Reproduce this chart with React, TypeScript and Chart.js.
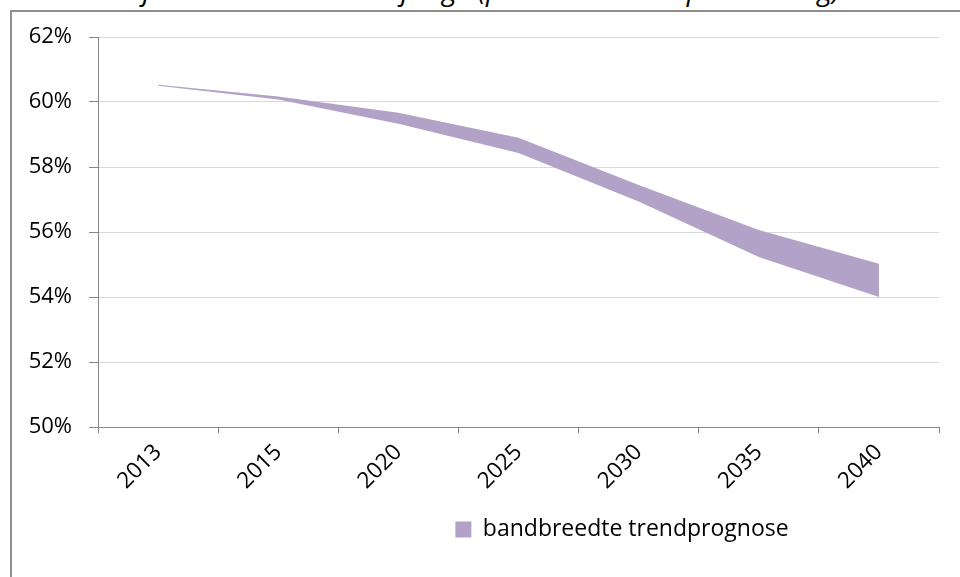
import React, { useEffect, useRef } from 'react';
import { Chart, registerables } from 'chart.js';

Chart.register(...registerables);

// ---- data ----
const years = ['2013', '2015', '2020', '2025', '2030', '2035', '2040'];
const lowerBound = [60.5, 60.08, 59.33, 58.43, 56.94, 55.23, 54.0];
const upperBound = [60.53, 60.17, 59.67, 58.9, 57.45, 56.06, 55.02];
const yTickValues = [50, 52, 54, 56, 58, 60, 62];
const legendLabel = 'bandbreedte trendprognose';
const titleStart = 'Grafiek 2 Aandeel 20-64-jarige ';
const titleEnd = '(potentiële beroepsbevolking) in de totale bevolking';

const W = 1220;
const H = 539;
const FONT = "'Open Sans', sans-serif";
const AXIS = '#868686';
const GRID = '#D9D9D9';
const BAND = '#B2A2C7';

export default function App() {
  const ref = useRef<HTMLCanvasElement | null>(null);

  useEffect(() => {
    if (!ref.current) return;
    const chart = new Chart(ref.current, {
      type: 'line',
      data: {
        labels: years,
        datasets: [
          {
            label: 'ondergrens',
            data: lowerBound,
            borderColor: 'transparent',
            backgroundColor: 'transparent',
            borderWidth: 0,
            pointRadius: 0,
            fill: false,
            tension: 0,
          },
          {
            label: legendLabel,
            data: upperBound,
            borderColor: 'transparent',
            backgroundColor: BAND,
            borderWidth: 0,
            pointRadius: 0,
            fill: '-1',
            tension: 0,
          },
        ],
      },
      options: {
        responsive: false,
        animation: false,
        layout: { padding: { top: 25, left: 0, right: 0, bottom: 0 } },
        plugins: {
          title: { display: false },
          tooltip: { enabled: false },
          legend: {
            display: true,
            position: 'bottom',
            align: 'center',
            labels: {
              filter: (item: any) => item.datasetIndex === 1,
              boxWidth: 16,
              boxHeight: 16,
              padding: 10,
              color: '#000',
              font: { family: FONT, size: 23 },
            },
          },
        },
        scales: {
          x: {
            type: 'category',
            offset: true,
            grid: {
              offset: true,
              drawOnChartArea: false,
              color: AXIS,
              tickLength: 6,
            },
            border: { color: AXIS, width: 1 },
            ticks: {
              minRotation: 45,
              maxRotation: 45,
              padding: 6,
              color: '#000',
              font: { family: FONT, size: 22.5 },
            },
            afterFit: (s: any) => {
              s.height = 81;
              s.paddingLeft = 0;
              s.paddingRight = 0;
            },
          },
          y: {
            type: 'linear',
            position: 'left',
            min: 50,
            max: 62,
            afterBuildTicks: (s: any) => {
              s.ticks = yTickValues.map((v) => ({ value: v }));
            },
            grid: {
              color: GRID,
              tickColor: AXIS,
              tickLength: 9,
            },
            border: { color: AXIS, width: 1 },
            ticks: {
              padding: 17,
              color: '#000',
              font: { family: FONT, size: 22 },
              callback: (v: any) => v + '%',
            },
            afterFit: (s: any) => {
              s.width = 86;
              s.paddingTop = 0;
              s.paddingBottom = 0;
            },
          },
          yR: {
            type: 'linear',
            position: 'right',
            display: true,
            grid: { display: false, drawTicks: false },
            border: { display: false },
            ticks: { display: false },
            afterFit: (s: any) => {
              s.width = W - 927;
              s.paddingTop = 0;
              s.paddingBottom = 0;
            },
          },
        },
      },
    });
    return () => chart.destroy();
  }, []);

  const titleFont: React.CSSProperties = {
    position: 'absolute',
    top: -30,
    fontFamily: FONT,
    fontStyle: 'italic',
    fontSize: 28,
    lineHeight: '38px',
    color: '#000',
  };

  return (
    <div
      style={{
        position: 'fixed',
        left: 0,
        top: 0,
        width: 960,
        height: 577,
        overflow: 'hidden',
        background: '#fff',
      }}
    >
      <div style={{ ...titleFont, right: 960 - 478, whiteSpace: 'pre' }}>{titleStart}</div>
      <div style={{ ...titleFont, left: 478, whiteSpace: 'pre' }}>{titleEnd}</div>
      <div
        style={{
          position: 'absolute',
          left: 10,
          top: 10,
          width: 1300,
          height: 700,
          border: '2px solid #8f8f8f',
        }}
      >
        <canvas
          ref={ref}
          width={W}
          height={H}
          style={{ position: 'absolute', left: 0, top: 0, width: W, height: H }}
        />
      </div>
    </div>
  );
}
